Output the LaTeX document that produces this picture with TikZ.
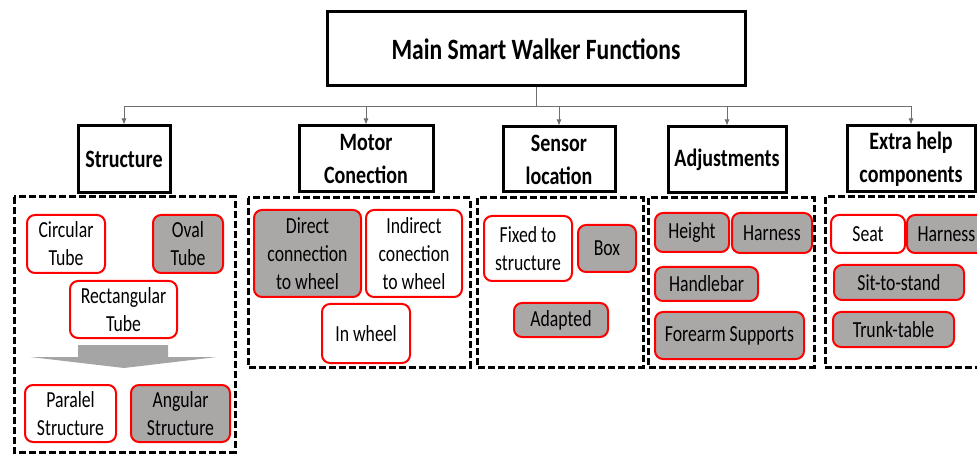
\documentclass[tikz,border=0pt]{standalone}
\usepackage{fontspec}
\setmainfont{Carlito}[FakeStretch=0.8]
\newfontfamily\itemfont{Carlito}[FakeStretch=0.77]
\usetikzlibrary{arrows.meta}
\definecolor{boxgray}{RGB}{170,167,167}
\definecolor{arrowgray}{RGB}{165,165,165}
\definecolor{linegray}{RGB}{110,110,110}
\begin{document}
\begin{tikzpicture}[x=1pt,y=-1pt,
  mainbox/.style={draw=black,line width=3pt,inner sep=0pt,align=center,
    font=\fontsize{29.5}{34}\selectfont\bfseries},
  catbox/.style={draw=black,line width=3pt,inner sep=0pt,align=center,
    font=\fontsize{25}{33}\selectfont\bfseries},
  group/.style={draw=black,line width=3pt,dash pattern=on 7pt off 3pt},
  item/.style={draw=red,line width=2pt,rounded corners=8pt,inner sep=0pt,
    align=center,fill=white,font=\itemfont\fontsize{23}{28}\selectfont},
  itemg/.style={item,fill=boxgray},
  conn/.style={draw=linegray,line width=0.8pt,-{Latex[length=6pt,width=5pt]}}
]
\clip (0,0) rectangle (977,454);

% title and categories
\node[mainbox,minimum width=418pt,minimum height=74pt] (main) at (536,49) {Main Smart Walker Functions};
\node[catbox,minimum width=92pt,minimum height=67pt] (struct) at (124,159.5) {Structure};
\node[catbox,minimum width=134pt,minimum height=66pt] (motor) at (366,159) {Motor\\Conection};
\node[catbox,minimum width=112pt,minimum height=65pt] (sensor) at (559,159.5) {Sensor\\location};
\node[catbox,minimum width=118pt,minimum height=66pt] (adjust) at (727,160) {Adjustments};
\node[catbox,minimum width=128pt,minimum height=66pt] (extra) at (911,159) {Extra help\\components};

% tree connectors
\coordinate (bus) at (536,106);
\foreach \c in {struct,motor,sensor,adjust,extra}
  \draw[conn] (main.south) -- (main.south |- bus) -| (\c.north);

% dashed groups
\draw[group] (14,197) rectangle (235,452);
\draw[group] (248,198) rectangle (470,367);
\draw[group] (477,198) rectangle (643,367);
\draw[group] (648,198) rectangle (814,367);
\draw[group] (825,197) rectangle (995,367);

% structure options
\node[item,minimum width=78pt,minimum height=58pt] (circ) at (66,244) {Circular\\Tube};
\node[itemg,minimum width=70pt,minimum height=58pt] (oval) at (188,244) {Oval\\Tube};
\node[item,minimum width=107pt,minimum height=57pt] (rect) at (123.5,309.5) {Rectangular\\Tube};
\fill[arrowgray] (78,345) -- (168,345) -- (168,357) -- (217,357) -- (124,368)
  -- (30,357) -- (78,357) -- cycle;
\node[item,minimum width=91pt,minimum height=57pt] (para) at (70.5,413.5) {Paralel\\Structure};
\node[itemg,minimum width=99pt,minimum height=57pt] (ang) at (180.5,413.5) {Angular\\Structure};

% motor options
\node[itemg,minimum width=107pt,minimum height=87pt] (direct) at (307.5,253.5) {Direct\\connection\\to wheel};
\node[item,minimum width=96pt,minimum height=87pt] (indirect) at (414,253.5) {Indirect\\conection\\to wheel};
\node[item,minimum width=88pt,minimum height=59pt] (inwheel) at (366,333.5) {In wheel};

% sensor options
\node[item,minimum width=88pt,minimum height=65pt] (fixed) at (528,248.5) {Fixed to\\structure};
\node[itemg,minimum width=58pt,minimum height=47pt] (box) at (607,248.5) {Box};
\node[itemg,minimum width=94pt,minimum height=34pt] (adapted) at (561,320) {Adapted};

% adjustment options
\node[itemg,minimum width=74pt,minimum height=39pt] (height) at (692,232.5) {Height};
\node[itemg,minimum width=80pt,minimum height=40pt] (harnessA) at (772,233) {Harness};
\node[itemg,minimum width=103pt,minimum height=34pt] (handle) at (706.5,284) {Handlebar};
\node[itemg,minimum width=149pt,minimum height=47pt] (forearm) at (729.5,335.5) {Forearm Supports};

% extra help options
\node[item,minimum width=74pt,minimum height=38pt] (seat) at (868,234) {Seat};
\node[itemg,minimum width=79pt,minimum height=38pt] (harnessB) at (946.5,234) {Harness};
\node[itemg,minimum width=130pt,minimum height=35pt] (sit) at (899,282.5) {Sit-to-stand};
\node[itemg,minimum width=121pt,minimum height=35pt] (trunk) at (893.5,329.5) {Trunk-table};
\end{tikzpicture}
\end{document}
